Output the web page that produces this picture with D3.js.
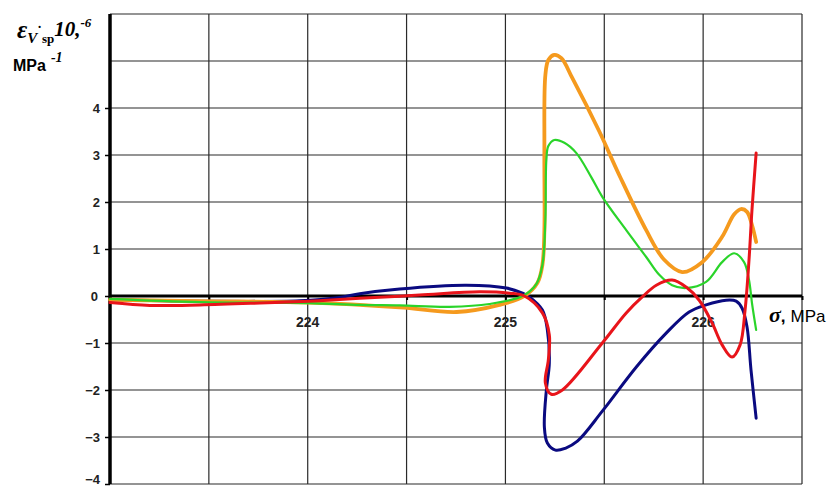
<!DOCTYPE html>
<html>
<head>
<meta charset="utf-8">
<script src="https://cdn.jsdelivr.net/npm/d3@7"></script>
<style>
  html, body { margin: 0; padding: 0; background: #fff; }
  svg { display: block; }
</style>
</head>
<body>
<svg id="chart" width="839" height="486"></svg>
<script>
// Stress sigma (MPa) and specific volumetric strain rate (10^-6 MPa^-1), one array per curve
const blueSeries = [
  [223.0, -0.08], [223.455, -0.11], [223.96, -0.10], [224.16, -0.03], [224.263, 0.05],
  [224.465, 0.15], [224.803, 0.23], [225.005, 0.17], [225.086, 0.06], [225.121, -0.02],
  [225.187, -0.30], [225.212, -0.72], [225.222, -1.43], [225.207, -2.0], [225.197, -2.79],
  [225.212, -3.13], [225.253, -3.28], [225.303, -3.24], [225.364, -3.09], [225.49, -2.45],
  [225.662, -1.51], [225.813, -0.79], [225.929, -0.34], [226.015, -0.19], [226.116, -0.09],
  [226.167, -0.11], [226.197, -0.26], [226.222, -0.66], [226.242, -1.57], [226.268, -2.60]
];
const orangeSeries = [
  [223.0, -0.08], [223.455, -0.11], [224.005, -0.14], [224.465, -0.24], [224.753, -0.34],
  [224.97, -0.19], [225.096, 0.0], [225.162, 0.28], [225.187, 0.66], [225.197, 1.40],
  [225.197, 3.11], [225.202, 4.70], [225.217, 5.02], [225.247, 5.13], [225.283, 5.06],
  [225.338, 4.64], [225.475, 3.50], [225.576, 2.57], [225.712, 1.40], [225.803, 0.77],
  [225.894, 0.51], [225.995, 0.72], [226.096, 1.26], [226.157, 1.74], [226.192, 1.85],
  [226.222, 1.79], [226.247, 1.51], [226.268, 1.15]
];
const greenSeries = [
  [223.0, -0.06], [223.455, -0.13], [224.005, -0.15], [224.263, -0.19], [224.465, -0.20],
  [224.717, -0.23], [224.919, -0.17], [225.086, 0.0], [225.157, 0.26], [225.187, 0.66],
  [225.202, 1.62], [225.207, 2.89], [225.217, 3.19], [225.247, 3.32], [225.298, 3.26],
  [225.359, 3.04], [225.434, 2.53], [225.49, 2.11], [225.611, 1.40], [225.712, 0.83],
  [225.778, 0.45], [225.843, 0.23], [225.914, 0.17], [226.015, 0.30], [226.096, 0.72],
  [226.157, 0.91], [226.207, 0.72], [226.232, 0.34], [226.247, -0.15], [226.268, -0.72]
];
const redSeries = [
  [223.0, -0.14], [223.202, -0.20], [223.455, -0.19], [223.758, -0.15], [224.005, -0.11],
  [224.263, -0.05], [224.566, 0.02], [224.869, 0.09], [225.02, 0.06], [225.096, 0.0],
  [225.187, -0.36], [225.222, -0.83], [225.217, -1.36], [225.202, -1.85], [225.232, -2.09],
  [225.288, -2.0], [225.49, -1.0], [225.611, -0.36], [225.692, -0.02], [225.763, 0.23],
  [225.843, 0.34], [225.914, 0.19], [225.98, -0.09], [226.045, -0.57], [226.096, -1.04],
  [226.146, -1.30], [226.187, -1.04], [226.212, -0.30], [226.232, 0.77], [226.247, 1.83],
  [226.268, 3.04]
];

const xTickLabels = [224, 225, 226];
const yTickLabels = [-4, -3, -2, -1, 0, 1, 2, 3, 4];
const xGridValues = [223.5, 224, 224.5, 225, 225.5, 226, 226.5];
const yGridValues = [-4, -3, -2, -1, 1, 2, 3, 4, 5, 6];

const svg = d3.select("#chart");
const x = d3.scaleLinear().domain([223, 226.5]).range([110, 802]);
const y = d3.scaleLinear().domain([-4, 6]).range([484, 14]);

// grid
const grid = svg.append("g").attr("stroke", "#2a2a2a").attr("stroke-width", 1.2);
grid.selectAll("line.v").data(xGridValues).join("line")
  .attr("x1", d => x(d)).attr("x2", d => x(d))
  .attr("y1", y(6)).attr("y2", y(-4));
grid.selectAll("line.h").data(yGridValues).join("line")
  .attr("x1", x(223)).attr("x2", x(226.5))
  .attr("y1", d => y(d)).attr("y2", d => y(d));

// axes
const yAxis = d3.axisLeft(y).tickValues(yTickLabels).tickSize(5).tickFormat(d3.format("d"));
const yAxisG = svg.append("g").attr("transform", `translate(${x(223)},0)`).call(yAxis);
yAxisG.select(".domain").remove();
yAxisG.selectAll(".tick line").attr("stroke", "#000").attr("stroke-width", 1.5);
yAxisG.selectAll(".tick text")
  .attr("x", -10)
  .style("font-family", "Arial, 'Liberation Sans', sans-serif")
  .style("font-size", "13px").style("font-weight", "bold").attr("fill", "#222");
yAxisG.selectAll(".tick").filter(d => d === 0).select("text").attr("x", -12);
// lowest label sits right at the bottom edge of the plot
yAxisG.selectAll(".tick").filter(d => d === -4).select("text").attr("dy", "-0.05em");

svg.append("line")
  .attr("x1", x(223)).attr("x2", x(223))
  .attr("y1", y(6)).attr("y2", y(-4))
  .attr("stroke", "#000").attr("stroke-width", 3.5);

const xAxis = d3.axisBottom(x).tickValues(xGridValues).tickSize(4).tickFormat("");
const xAxisG = svg.append("g").attr("transform", `translate(0,${y(0)})`).call(xAxis);
xAxisG.select(".domain").remove();
xAxisG.selectAll(".tick line").attr("stroke", "#000").attr("stroke-width", 2);

svg.append("line")
  .attr("x1", x(223)).attr("x2", x(226.5))
  .attr("y1", y(0)).attr("y2", y(0))
  .attr("stroke", "#000").attr("stroke-width", 3);

svg.append("g").selectAll("text").data(xTickLabels).join("text")
  .attr("x", d => x(d)).attr("y", y(0) + 31)
  .attr("text-anchor", "middle")
  .style("font-family", "Arial, 'Liberation Sans', sans-serif")
  .style("font-size", "14px").style("font-weight", "bold").attr("fill", "#222")
  .text(d => d);

// curves
const line = d3.line()
  .x(d => x(d[0])).y(d => y(d[1]))
  .curve(d3.curveCatmullRom.alpha(0.5));

const series = [
  { data: blueSeries, color: "#0a0a80", width: 3 },
  { data: orangeSeries, color: "#f59a1e", width: 3.8 },
  { data: greenSeries, color: "#2ad42a", width: 2.2 },
  { data: redSeries, color: "#e8141a", width: 3 }
];
svg.append("g").selectAll("path").data(series).join("path")
  .attr("d", d => line(d.data))
  .attr("fill", "none")
  .attr("stroke", d => d.color)
  .attr("stroke-width", d => d.width)
  .attr("stroke-linejoin", "round")
  .attr("stroke-linecap", "round");

// axis titles
const xTitle = svg.append("text").attr("x", 769).attr("y", 322)
  .style("font-family", "Arial, 'Liberation Sans', sans-serif")
  .style("font-size", "17px").attr("fill", "#000");
xTitle.append("tspan")
  .style("font-family", "'Times New Roman', 'Liberation Serif', serif")
  .style("font-style", "italic").style("font-weight", "bold").style("font-size", "22px")
  .text("σ");
xTitle.append("tspan").style("font-weight", "bold").text(",");
xTitle.append("tspan").attr("dx", 5).text("MPa");

const yTitle = svg.append("text").attr("x", 17).attr("y", 38)
  .style("font-family", "'Times New Roman', 'Liberation Serif', serif")
  .style("font-weight", "bold").attr("fill", "#000");
yTitle.append("tspan").style("font-style", "italic").style("font-size", "25px").text("ε");
yTitle.append("tspan").attr("dy", 5).style("font-style", "italic").style("font-size", "15px").text("V");
yTitle.append("tspan").attr("dy", -7).style("font-size", "14px").text("˙");
yTitle.append("tspan").attr("dy", 7).style("font-size", "13px").text("sp");
yTitle.append("tspan").attr("dy", -7).style("font-style", "italic").style("font-size", "21px").text("10,");
yTitle.append("tspan").attr("dy", -9).style("font-style", "italic").style("font-size", "13px").text("-6");

const unitTitle = svg.append("text").attr("x", 13).attr("y", 71)
  .style("font-family", "Arial, 'Liberation Sans', sans-serif")
  .style("font-weight", "bold").style("font-size", "16px").attr("fill", "#000");
unitTitle.append("tspan").text("MPa");
unitTitle.append("tspan").attr("dx", 5).attr("dy", -9)
  .style("font-family", "'Times New Roman', 'Liberation Serif', serif")
  .style("font-style", "italic").style("font-size", "14px").text("-1");
</script>
</body>
</html>
